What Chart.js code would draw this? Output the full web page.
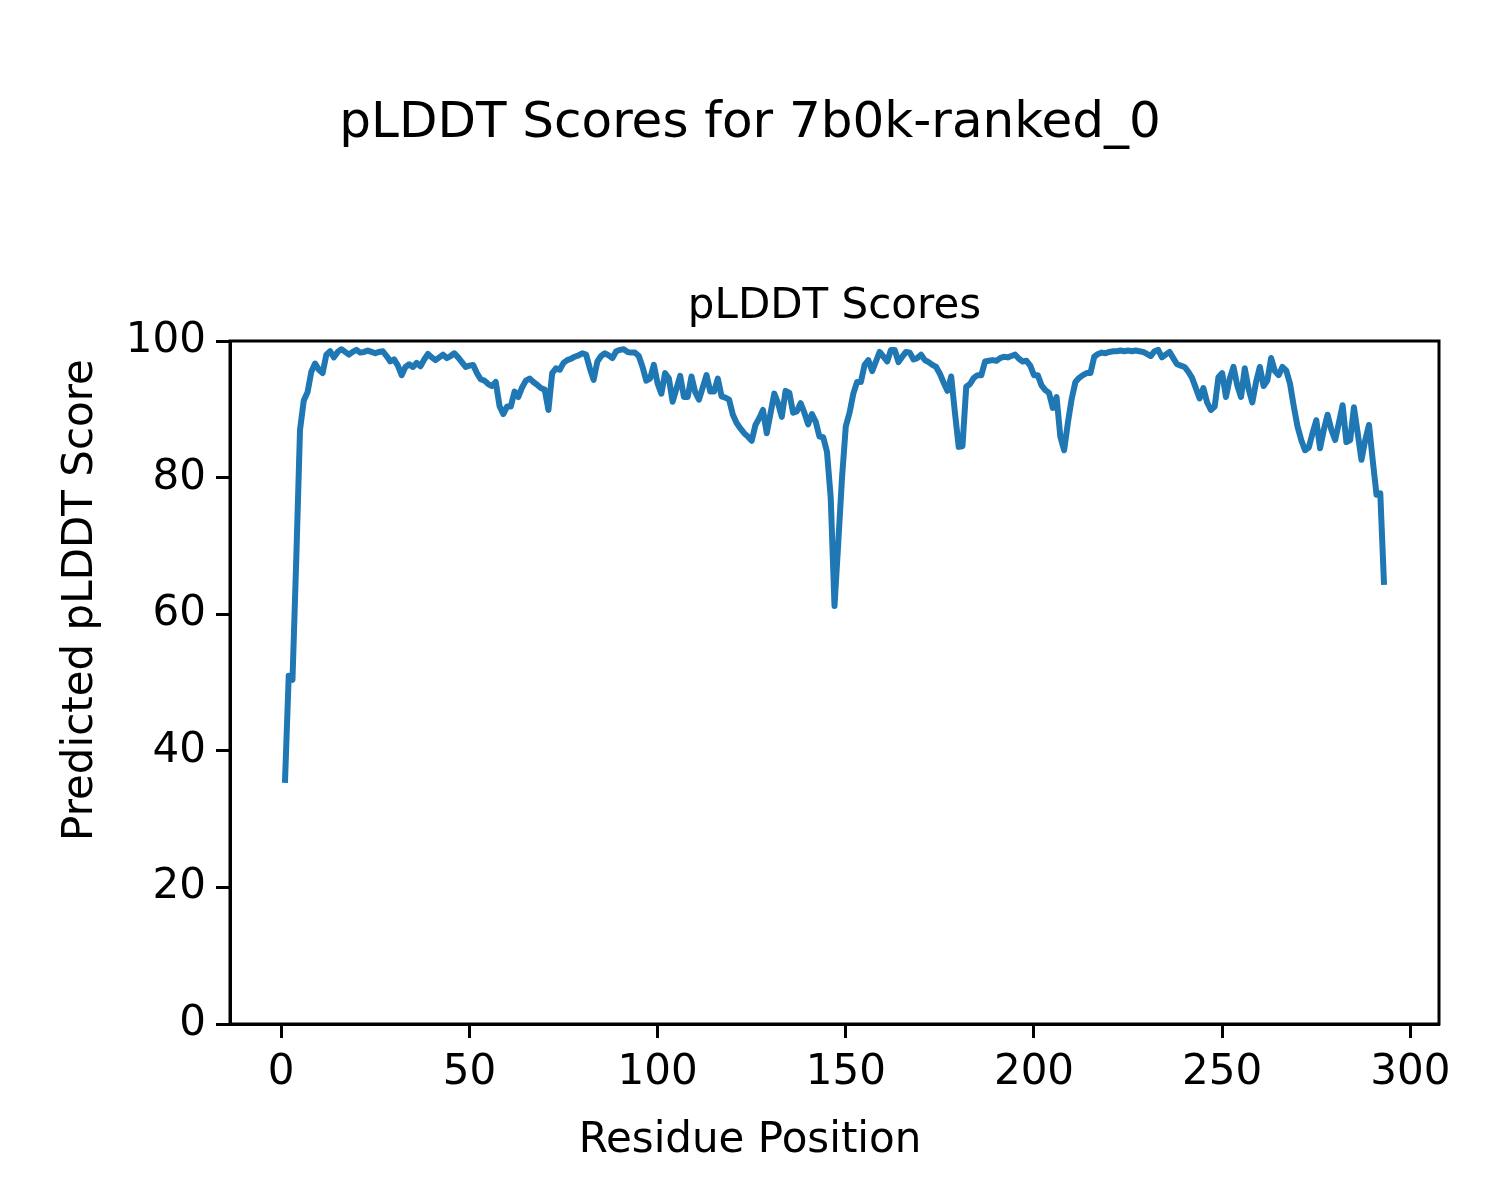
<!DOCTYPE html>
<html>
<head>
<meta charset="utf-8">
<script src="https://cdn.jsdelivr.net/npm/chart.js@4.4.1/dist/chart.umd.min.js"></script>
<style>
  body { margin: 0; background: #fff; }
  #wrap { width: 1500px; height: 1200px; }
</style>
</head>
<body>
<div id="wrap"><canvas id="chart" width="1500" height="1200"></canvas></div>
<script>
// pLDDT per residue (residues 1..293)
const plddt = [
  35.3, 51.0, 50.4, 68.0, 87.0, 91.3, 92.5, 95.5, 96.7, 95.8,
  95.3, 98.0, 98.5, 97.6, 98.4, 98.8, 98.4, 98.0, 98.4, 98.7,
  98.3, 98.4, 98.6, 98.4, 98.2, 98.4, 98.5, 97.8, 97.0, 97.3,
  96.4, 95.0, 96.2, 96.6, 96.2, 96.8, 96.3, 97.3, 98.1, 97.6,
  97.2, 97.6, 98.0, 97.5, 97.8, 98.2, 97.6, 96.9, 96.2, 96.4,
  96.5, 95.3, 94.4, 94.2, 93.7, 93.4, 94.0, 90.5, 89.3, 90.4,
  90.4, 92.6, 91.8, 93.2, 94.2, 94.5, 94.0, 93.6, 93.1, 92.9,
  89.9, 95.3, 96.0, 95.8, 96.8, 97.2, 97.4, 97.7, 97.9, 98.2,
  98.0, 96.0, 94.3, 97.0, 97.8, 98.2, 97.9, 97.5, 98.5, 98.7,
  98.8, 98.4, 98.3, 98.3, 97.8, 96.2, 94.2, 94.5, 96.5, 93.8,
  92.3, 95.3, 94.5, 91.1, 93.0, 94.9, 91.8, 91.8, 94.8, 92.5,
  91.4, 93.2, 95.0, 92.6, 92.6, 94.5, 91.9, 91.7, 91.4, 89.2,
  88.0, 87.2, 86.5, 86.0, 85.4, 87.7, 88.7, 89.9, 86.5, 89.4,
  92.3, 90.9, 88.9, 92.7, 92.4, 89.5, 89.7, 90.9, 89.5, 87.8,
  89.3, 88.2, 86.0, 85.9, 83.8, 77.0, 61.2, 70.5, 80.0, 87.5,
  89.5, 92.3, 94.0, 94.0, 96.5, 97.2, 95.6, 97.0, 98.4, 97.7,
  97.0, 98.7, 98.7, 96.9, 97.7, 98.4, 98.3, 97.3, 97.5, 98.0,
  97.2, 96.9, 96.5, 96.2, 95.2, 93.9, 92.7, 94.8, 89.5, 84.5,
  84.6, 93.3, 93.7, 94.6, 95.0, 95.0, 97.0, 97.1, 97.2, 97.1,
  97.5, 97.7, 97.6, 97.8, 98.0, 97.4, 97.0, 97.1, 96.4, 95.0,
  95.0, 93.5, 92.8, 92.4, 90.2, 91.8, 86.0, 84.0, 88.0, 91.5,
  94.0, 94.6, 95.0, 95.3, 95.3, 97.7, 98.1, 98.3, 98.2, 98.4,
  98.5, 98.5, 98.6, 98.5, 98.6, 98.5, 98.6, 98.5, 98.4, 98.1,
  97.8, 98.5, 98.7, 97.6, 98.0, 98.4, 97.5, 96.6, 96.4, 96.2,
  95.5, 94.6, 93.1, 91.6, 93.1, 91.0, 89.9, 90.4, 94.7, 95.3,
  91.8, 94.5, 96.2, 93.5, 91.8, 96.0, 93.0, 91.0, 94.0, 96.2,
  93.4, 94.2, 97.5, 95.6, 95.0, 96.2, 95.7, 93.8, 90.5, 87.5,
  85.5, 84.0, 84.4, 86.5, 88.4, 84.3, 87.0, 89.2, 87.0, 85.5,
  88.0, 90.6, 85.2, 85.5, 90.3, 86.5, 82.6, 85.5, 87.7, 82.5,
  77.5, 77.7, 64.3
];
const residues = plddt.map((v, i) => i + 1);
const xTicks = [0, 50, 100, 150, 200, 250, 300];
const yTicks = [0, 20, 40, 60, 80, 100];

const FONT = "'DejaVu Sans', sans-serif";
Chart.defaults.color = '#000';
Chart.defaults.font.family = FONT;

// matplotlib-ish 5% margins on x
const span = residues[residues.length - 1] - residues[0];
const xMin = residues[0] - span * 0.05;
const xMax = residues[residues.length - 1] + span * 0.05;

// frame + figure texts (suptitle, axes title, sup x/y labels)
const decor = {
  id: 'decor',
  afterDraw(chart) {
    const ctx = chart.ctx;
    const a = chart.chartArea;
    ctx.save();
    ctx.strokeStyle = '#000';
    ctx.lineWidth = 3;
    ctx.strokeRect(a.left, a.top, a.right - a.left, a.bottom - a.top);

    ctx.fillStyle = '#000';
    ctx.textAlign = 'center';
    ctx.textBaseline = 'alphabetic';
    ctx.font = '50px ' + FONT;
    ctx.fillText('pLDDT Scores for 7b0k-ranked_0', 750, 137);
    ctx.font = '42px ' + FONT;
    ctx.fillText('pLDDT Scores', (a.left + a.right) / 2, 318);
    ctx.fillText('Residue Position', 750, 1152);

    ctx.translate(92, 600);
    ctx.rotate(-Math.PI / 2);
    ctx.fillText('Predicted pLDDT Score', 0, 0);
    ctx.restore();
  }
};

new Chart(document.getElementById('chart'), {
  type: 'line',
  data: {
    labels: residues,
    datasets: [{
      data: residues.map((r, i) => ({ x: r, y: plddt[i] })),
      borderColor: '#1f77b4',
      borderWidth: 6,
      borderJoinStyle: 'round',
      borderCapStyle: 'butt',
      pointRadius: 0,
      tension: 0,
      fill: false
    }]
  },
  options: {
    responsive: false,
    animation: false,
    layout: { padding: { left: 0, right: 61, top: 341, bottom: 0 } },
    plugins: { legend: { display: false }, title: { display: false }, tooltip: { enabled: false } },
    scales: {
      x: {
        type: 'linear',
        min: xMin,
        max: xMax,
        afterBuildTicks: s => { s.ticks = xTicks.map(v => ({ value: v })); },
        afterFit: s => { s.height = 176; },
        ticks: { font: { size: 42 }, padding: 10, maxRotation: 0, autoSkip: false },
        grid: { drawOnChartArea: false, drawTicks: true, tickLength: 14, tickWidth: 3, color: '#000' },
        border: { display: true, color: '#000', width: 3 }
      },
      y: {
        min: 0,
        max: 100,
        afterBuildTicks: s => { s.ticks = yTicks.map(v => ({ value: v })); },
        afterFit: s => { s.width = 230; },
        ticks: { font: { size: 42 }, padding: 10 },
        grid: { drawOnChartArea: false, drawTicks: true, tickLength: 14, tickWidth: 3, color: '#000' },
        border: { display: true, color: '#000', width: 3 }
      }
    }
  },
  plugins: [decor]
});
</script>
</body>
</html>
